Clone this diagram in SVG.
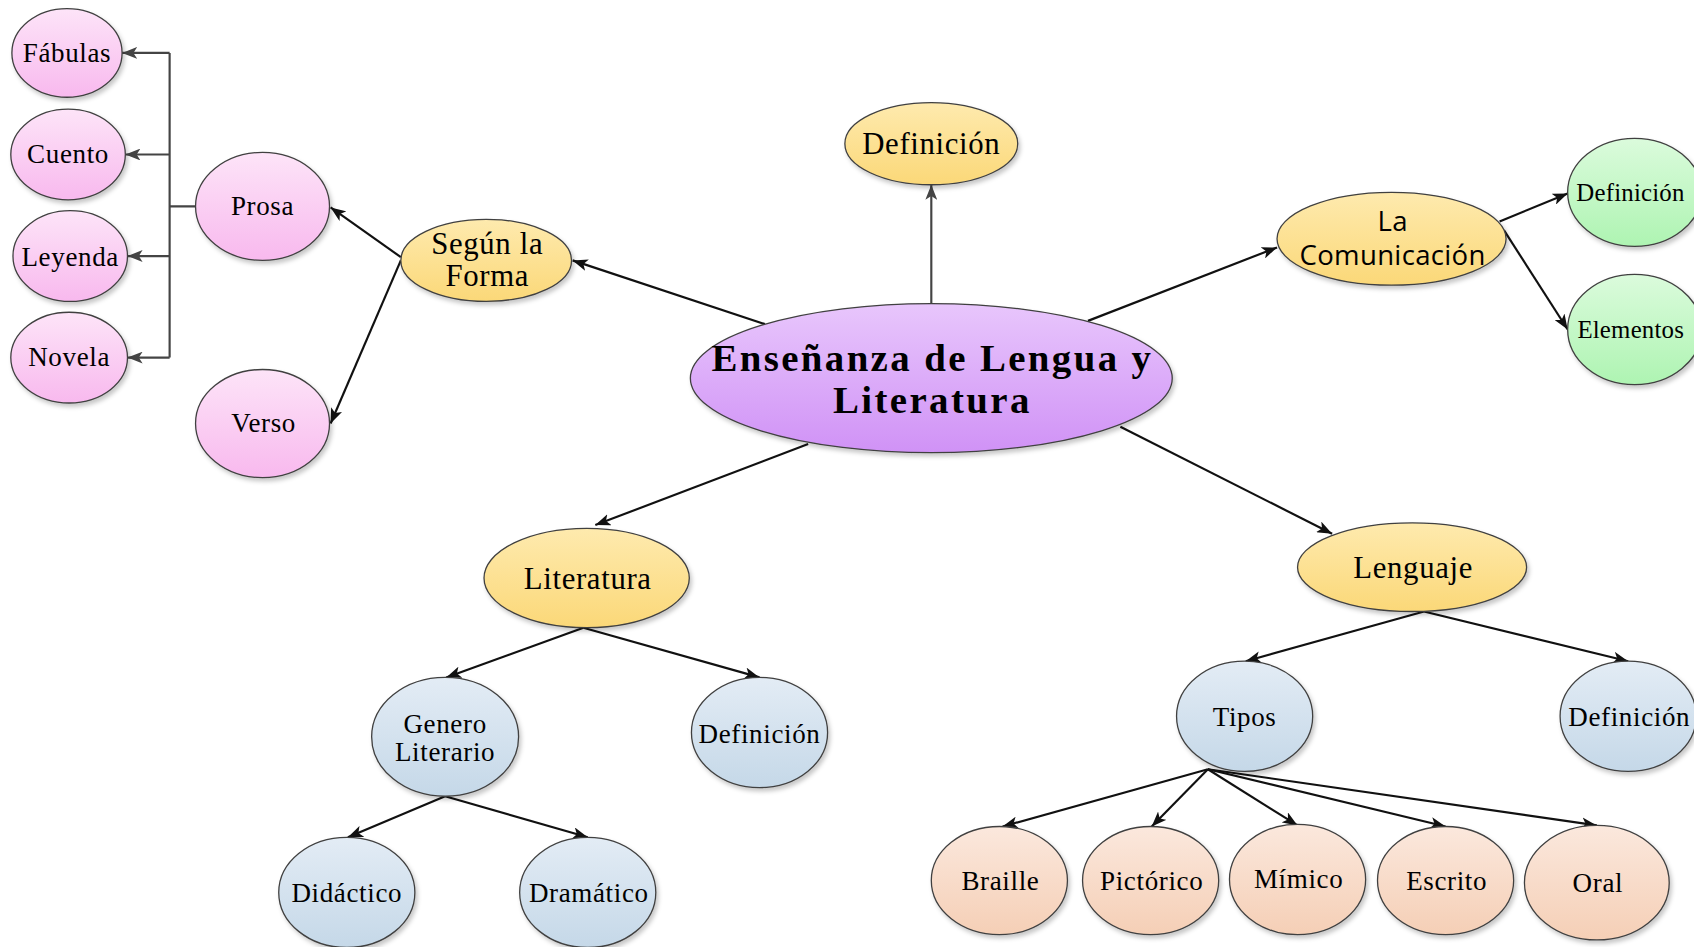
<svg xmlns="http://www.w3.org/2000/svg" width="1694" height="947" viewBox="0 0 1694 947">
<style>
.n{stroke:#404040;stroke-width:1.2;filter:url(#sh)}
.t{font-family:"Liberation Serif","Times New Roman",serif;fill:#000;text-anchor:middle}
.leaf{font-size:25px;letter-spacing:0.6px}
.edge{font-family:"Liberation Serif","Times New Roman",serif;fill:#000;font-size:23px;letter-spacing:0.2px}
.mid{font-size:28.5px;letter-spacing:0.6px}
.sans{font-family:"Open Sans","Noto Sans",sans-serif;font-size:25.5px;fill:#000;text-anchor:middle;letter-spacing:0.3px}
.c{fill:none;stroke:#111;stroke-width:2;marker-end:url(#ab)}
.g{fill:none;stroke:#444;stroke-width:2}
.ga{marker-end:url(#ag)}
</style>
<defs>
<filter id="sh" x="-10%" y="-10%" width="130%" height="130%">
<feDropShadow dx="2" dy="3" stdDeviation="2" flood-color="#000" flood-opacity="0.22"/>
</filter>
<linearGradient id="pink" x1="0" y1="0" x2="0" y2="1"><stop offset="0" stop-color="#fde4f8"/><stop offset="1" stop-color="#f8b9ee"/></linearGradient>
<linearGradient id="yel" x1="0" y1="0" x2="0" y2="1"><stop offset="0" stop-color="#feeaae"/><stop offset="1" stop-color="#fbd878"/></linearGradient>
<linearGradient id="pur" x1="0" y1="0" x2="0" y2="1"><stop offset="0" stop-color="#e8c6fc"/><stop offset="1" stop-color="#d092f6"/></linearGradient>
<linearGradient id="grn" x1="0" y1="0" x2="0" y2="1"><stop offset="0" stop-color="#dbfbdc"/><stop offset="1" stop-color="#aef4b2"/></linearGradient>
<linearGradient id="blu" x1="0" y1="0" x2="0" y2="1"><stop offset="0" stop-color="#e3ecf5"/><stop offset="1" stop-color="#c5d8e8"/></linearGradient>
<linearGradient id="pch" x1="0" y1="0" x2="0" y2="1"><stop offset="0" stop-color="#fbe8dd"/><stop offset="1" stop-color="#f5cfb6"/></linearGradient>
<marker id="ab" viewBox="0 0 14 11" refX="14" refY="5.5" markerWidth="14" markerHeight="11" markerUnits="userSpaceOnUse" orient="auto"><path d="M0,0 L14,5.5 L0,11 L3.5,5.5 Z" fill="#111"/></marker>
<marker id="ag" viewBox="0 0 14 11" refX="14" refY="5.5" markerWidth="14" markerHeight="11" markerUnits="userSpaceOnUse" orient="auto"><path d="M0,0 L14,5.5 L0,11 L3.5,5.5 Z" fill="#444"/></marker>
</defs>
<rect width="1694" height="947" fill="#fff"/>
<g transform="scale(1.0804)">
<g id="connectors">
<line class="c" x1="708" y1="300" x2="530" y2="241"/>
<line class="g ga" x1="862" y1="281" x2="862" y2="171"/>
<line class="c" x1="1007" y1="297" x2="1182" y2="229"/>
<line class="c" x1="748" y1="411" x2="551" y2="486"/>
<line class="c" x1="1037" y1="395" x2="1233" y2="494"/>
<line class="c" x1="371" y1="238" x2="306" y2="192"/>
<line class="c" x1="371" y1="241" x2="306" y2="392"/>
<path class="g" d="M181,191 H157 M157,49 V331"/>
<line class="g ga" x1="157" y1="49" x2="113" y2="49"/>
<line class="g ga" x1="157" y1="143" x2="116" y2="143"/>
<line class="g ga" x1="157" y1="237" x2="118" y2="237"/>
<line class="g ga" x1="157" y1="331" x2="118" y2="331"/>
<line class="c" x1="1388" y1="205" x2="1451" y2="179"/>
<line class="c" x1="1392" y1="213" x2="1451" y2="305"/>
<line class="c" x1="540" y1="581" x2="413" y2="627"/>
<line class="c" x1="540" y1="581" x2="703" y2="627"/>
<line class="c" x1="412" y1="737" x2="322" y2="775"/>
<line class="c" x1="412" y1="737" x2="544" y2="775"/>
<line class="c" x1="1318" y1="566" x2="1153" y2="612"/>
<line class="c" x1="1318" y1="566" x2="1507" y2="612"/>
<line class="c" x1="1118" y1="712" x2="928" y2="765"/>
<line class="c" x1="1118" y1="712" x2="1066" y2="765"/>
<line class="c" x1="1118" y1="712" x2="1201" y2="764"/>
<line class="c" x1="1118" y1="712" x2="1338" y2="765"/>
<line class="c" x1="1118" y1="712" x2="1478" y2="764"/>
</g>
<g id="n-central"><ellipse class="n" cx="862" cy="350" rx="223" ry="69" fill="url(#pur)"/><text class="t" x="863" y="343" font-size="36" font-weight="bold" letter-spacing="2.2">Enseñanza de Lengua y</text><text class="t" x="863" y="382" font-size="36" font-weight="bold" letter-spacing="2.2">Literatura</text></g>
<g id="n-def-top"><ellipse class="n" cx="862" cy="133" rx="80" ry="38" fill="url(#yel)"/><text class="t mid" x="862" y="143">Definición</text></g>
<g id="n-segun"><ellipse class="n" cx="450" cy="241" rx="79" ry="38" fill="url(#yel)"/><text class="t mid" x="451" y="235">Según la</text><text class="t mid" x="451" y="265">Forma</text></g>
<g id="n-prosa"><ellipse class="n" cx="243" cy="191" rx="62" ry="50" fill="url(#pink)"/><text class="t leaf" x="243" y="199">Prosa</text></g>
<g id="n-verso"><ellipse class="n" cx="243" cy="392" rx="62" ry="50" fill="url(#pink)"/><text class="t leaf" x="244" y="400">Verso</text></g>
<g id="n-fabulas"><ellipse class="n" cx="62" cy="49" rx="51" ry="41" fill="url(#pink)"/><text class="t leaf" x="62" y="57">Fábulas</text></g>
<g id="n-cuento"><ellipse class="n" cx="63" cy="143" rx="53" ry="42" fill="url(#pink)"/><text class="t leaf" x="63" y="151">Cuento</text></g>
<g id="n-leyenda"><ellipse class="n" cx="65" cy="237" rx="53" ry="42" fill="url(#pink)"/><text class="t leaf" x="65" y="246">Leyenda</text></g>
<g id="n-novela"><ellipse class="n" cx="64" cy="331" rx="54" ry="42" fill="url(#pink)"/><text class="t leaf" x="64" y="339">Novela</text></g>
<g id="n-comunicacion"><ellipse class="n" cx="1288" cy="221" rx="106" ry="43" fill="url(#yel)"/><text class="sans" x="1289" y="214">La</text><text class="sans" x="1289" y="245">Comunicación</text></g>
<g id="n-def-green"><ellipse class="n" cx="1513" cy="178" rx="62" ry="50" fill="url(#grn)"/><text class="edge" x="1459" y="186">Definición</text></g>
<g id="n-elementos"><ellipse class="n" cx="1513" cy="305" rx="62" ry="51" fill="url(#grn)"/><text class="edge" x="1460" y="313">Elementos</text></g>
<g id="n-literatura"><ellipse class="n" cx="543" cy="535" rx="95" ry="46" fill="url(#yel)"/><text class="t mid" x="544" y="545">Literatura</text></g>
<g id="n-lenguaje"><ellipse class="n" cx="1307" cy="525" rx="106" ry="41" fill="url(#yel)"/><text class="t mid" x="1308" y="535">Lenguaje</text></g>
<g id="n-genero"><ellipse class="n" cx="412" cy="682" rx="68" ry="55" fill="url(#blu)"/><text class="t leaf" x="412" y="678">Genero</text><text class="t leaf" x="412" y="704">Literario</text></g>
<g id="n-def-lit"><ellipse class="n" cx="703" cy="678" rx="63" ry="51" fill="url(#blu)"/><text class="t leaf" x="703" y="688">Definición</text></g>
<g id="n-didactico"><ellipse class="n" cx="321" cy="826" rx="63" ry="51" fill="url(#blu)"/><text class="t leaf" x="321" y="835">Didáctico</text></g>
<g id="n-dramatico"><ellipse class="n" cx="544" cy="826" rx="63" ry="51" fill="url(#blu)"/><text class="t leaf" x="545" y="835">Dramático</text></g>
<g id="n-tipos"><ellipse class="n" cx="1152" cy="663" rx="63" ry="51" fill="url(#blu)"/><text class="t leaf" x="1152" y="672">Tipos</text></g>
<g id="n-def-leng"><ellipse class="n" cx="1507" cy="663" rx="63" ry="51" fill="url(#blu)"/><text class="t leaf" x="1508" y="672">Definición</text></g>
<g id="n-braille"><ellipse class="n" cx="925" cy="815" rx="63" ry="50" fill="url(#pch)"/><text class="t leaf" x="926" y="824">Braille</text></g>
<g id="n-pictorico"><ellipse class="n" cx="1065" cy="815" rx="63" ry="50" fill="url(#pch)"/><text class="t leaf" x="1066" y="824">Pictórico</text></g>
<g id="n-mimico"><ellipse class="n" cx="1201" cy="814" rx="63" ry="51" fill="url(#pch)"/><text class="t leaf" x="1202" y="822">Mímico</text></g>
<g id="n-escrito"><ellipse class="n" cx="1338" cy="815" rx="63" ry="50" fill="url(#pch)"/><text class="t leaf" x="1339" y="824">Escrito</text></g>
<g id="n-oral"><ellipse class="n" cx="1478" cy="817" rx="67" ry="53" fill="url(#pch)"/><text class="t leaf" x="1479" y="826">Oral</text></g>
</g>
</svg>
